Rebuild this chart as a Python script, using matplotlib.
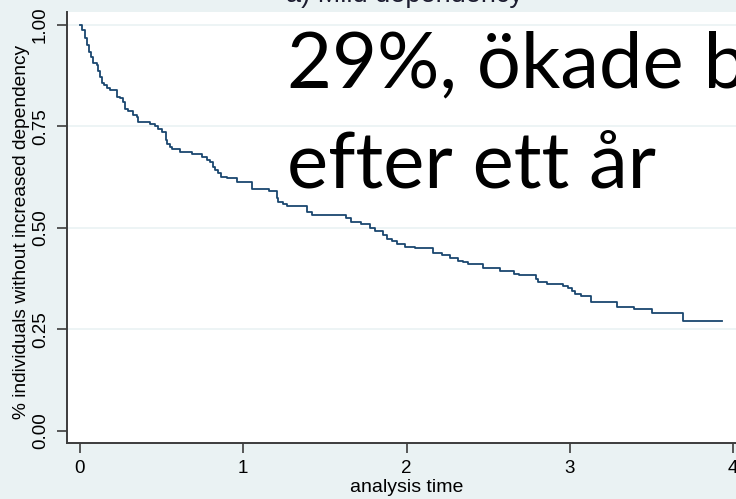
import matplotlib
matplotlib.use("Agg")
import matplotlib.pyplot as plt

# Kaplan-Meier estimate (time in years, survival after each drop)
times = [0.000, 0.010, 0.030, 0.045, 0.055, 0.067, 0.082, 0.102, 0.112, 0.122,
         0.133, 0.149, 0.163, 0.184, 0.225, 0.245, 0.265, 0.276, 0.296, 0.327,
         0.347, 0.357, 0.429, 0.459, 0.480, 0.500, 0.527, 0.535, 0.551, 0.561,
         0.612, 0.684, 0.750, 0.775, 0.796, 0.812, 0.827, 0.847, 0.861, 0.898,
         0.960, 1.055, 1.155, 1.205, 1.215, 1.245, 1.265, 1.390, 1.420, 1.630,
         1.660, 1.720, 1.776, 1.806, 1.857, 1.878, 1.909, 1.939, 1.990, 2.050,
         2.160, 2.215, 2.266, 2.317, 2.347, 2.378, 2.470, 2.570, 2.660, 2.690,
         2.790, 2.807, 2.858, 2.960, 2.990, 3.010, 3.030, 3.070, 3.130, 3.290,
         3.390, 3.500, 3.690, 3.930]
surv = [1.000, 0.988, 0.967, 0.951, 0.934, 0.920, 0.907, 0.901, 0.887, 0.873,
        0.858, 0.852, 0.844, 0.840, 0.823, 0.819, 0.811, 0.792, 0.789, 0.778,
        0.774, 0.762, 0.755, 0.751, 0.745, 0.737, 0.717, 0.707, 0.700, 0.695,
        0.686, 0.683, 0.676, 0.667, 0.663, 0.651, 0.643, 0.636, 0.626, 0.622,
        0.614, 0.597, 0.592, 0.573, 0.563, 0.558, 0.553, 0.540, 0.533, 0.524,
        0.514, 0.510, 0.501, 0.493, 0.483, 0.474, 0.469, 0.461, 0.454, 0.450,
        0.439, 0.433, 0.425, 0.419, 0.415, 0.412, 0.402, 0.394, 0.386, 0.383,
        0.374, 0.366, 0.361, 0.357, 0.351, 0.346, 0.337, 0.333, 0.318, 0.306,
        0.300, 0.290, 0.272, 0.272]

yticks = [0.0, 0.25, 0.5, 0.75, 1.0]
ytick_labels = ["0.00", "0.25", "0.50", "0.75", "1.00"]
xticks = [0, 1, 2, 3, 4]

bg = "#eaf2f3"
navy = "#1a476f"
plt.rcParams["font.family"] = ["Liberation Sans", "DejaVu Sans"]

fig = plt.figure(figsize=(7.36, 4.99), dpi=100, facecolor=bg)
ax = fig.add_axes([0.091, 0.1122, 0.9226, 0.8638])
ax.set_facecolor("white")

ax.plot(times, surv, drawstyle="steps-post", color=navy, lw=1.3, zorder=3)

ax.set_xlim(-0.0796, 4.078)
ax.set_ylim(-0.0296, 1.032)
ax.set_yticks(yticks)
ax.set_yticklabels(ytick_labels)
ax.set_xticks(xticks)

for y in yticks[1:]:
    ax.axhline(y, color=bg, lw=1.2, zorder=1)

for s in ["top", "right"]:
    ax.spines[s].set_visible(False)
for s in ["left", "bottom"]:
    ax.spines[s].set_color("#3c3c3c")
    ax.spines[s].set_linewidth(1.4)

ax.tick_params(axis="both", length=7, width=1.2, color="#3c3c3c",
               labelsize=13.5, labelcolor="black")
ax.tick_params(axis="y", pad=6, labelrotation=90)
ax.tick_params(axis="x", pad=5)
for lab in ax.get_yticklabels():
    lab.set_va("center")

ax.set_ylabel("% individuals without increased dependency", fontsize=13.8)
ax.yaxis.set_label_coords(-0.055, 0.49)
ax.set_xlabel("analysis time", fontsize=14, labelpad=2)

fig.text(405 / 736, 1 - 2 / 499, "a) Mild dependency", ha="center", va="baseline",
         fontsize=19.5, color="#1c1c30")

# overlay text from the slide
fig.text(287 / 736, 1 - 87 / 499, "29%, ökade b", ha="left", va="baseline",
         fontsize=56, family=["Lato", "DejaVu Sans"], color="black", zorder=10)
fig.text(287 / 736, 1 - 188 / 499, "efter ett år", ha="left", va="baseline",
         fontsize=56, family=["Lato", "DejaVu Sans"], color="black", zorder=10)

fig.savefig("out.png", dpi=100, facecolor=bg)
